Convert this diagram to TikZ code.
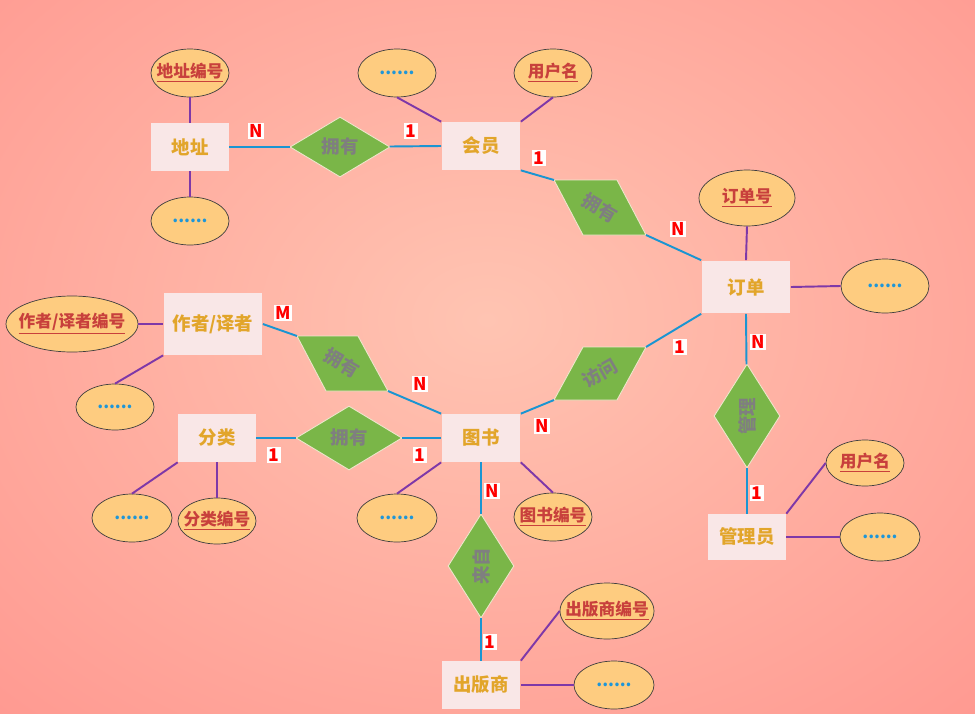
\documentclass[tikz,border=0pt]{standalone}
\usepackage{fontspec}
\setmainfont{Noto Sans CJK SC}
\usepackage{xcolor}
\usepackage{tikz}
\usetikzlibrary{shapes.geometric,positioning}
\definecolor{bgin}{HTML}{FFC4B2}
\definecolor{bgout}{HTML}{FF8A85}
\definecolor{entityfill}{HTML}{F9E7E7}
\definecolor{entitytext}{HTML}{E2A52A}
\definecolor{attrfill}{HTML}{FECC80}
\definecolor{attrborder}{HTML}{3E3E3E}
\definecolor{keytext}{HTML}{C8403C}
\definecolor{dotblue}{HTML}{1E96D8}
\definecolor{relfill}{HTML}{7AB648}
\definecolor{relborder}{HTML}{EEE6CC}
\definecolor{reltext}{HTML}{7F7F7F}
\definecolor{linkblue}{HTML}{1A95D2}
\definecolor{linkpurple}{HTML}{7E38A8}
\definecolor{cardred}{HTML}{FF0000}
\newcommand{\key}[1]{\underline{#1}}
\tikzset{
  entity/.style={
    rectangle, fill=entityfill, minimum width=1.56cm, minimum height=0.96cm,
    inner sep=1pt, text=entitytext, font=\bfseries\fontsize{10.5}{12}\selectfont
  },
  attr/.style={
    ellipse, draw=attrborder, line width=0.4pt, fill=attrfill,
    minimum width=1.56cm, minimum height=0.96cm, inner ysep=0pt, inner xsep=-5pt,
    text=keytext, font=\bfseries\fontsize{9.5}{11}\selectfont
  },
  moreattr/.style={attr, text=dotblue},
  rel/.style={
    diamond, fill=relfill, draw=relborder, line width=0.5pt, aspect=1.6,
    inner sep=0pt, minimum width=2cm, minimum height=1.2cm,
    text=reltext, font=\bfseries\fontsize{10.5}{12}\selectfont
  },
  relshape/.style={fill=relfill, draw=relborder, line width=0.5pt},
  reltag/.style={text=reltext, font=\bfseries\fontsize{10.5}{12}\selectfont, inner sep=0pt},
  card/.style={fill=white, text=cardred, inner sep=1pt, font=\bfseries\fontsize{10}{11}\selectfont},
  relline/.style={draw=linkblue, line width=1.1pt},
  attrline/.style={draw=linkpurple, line width=1.1pt},
}

\begin{document}
\begin{tikzpicture}[x=0.02cm, y=-0.02cm]
  \useasboundingbox (0,0) rectangle (975,714);
  \fill[bgout] (0,0) rectangle (975,714);
  \shade[inner color=bgin, outer color=bgout] (487,320) ellipse [x radius=19.5cm, y radius=15cm];
  % entities
  \node[entity] (dizhi) at (190,147) {地址};
  \node[entity, minimum width=1.58cm] (huiyuan) at (481,146) {会员};
  \node[entity, minimum width=1.78cm, minimum height=1.06cm] (dingdan) at (746,287) {订单};
  \node[entity, minimum width=1.98cm, minimum height=1.24cm] (zuozhe) at (213,324) {作者/译者};
  \node[entity] (fenlei) at (217,438) {分类};
  \node[entity, minimum width=1.58cm] (tushu) at (481,438) {图书};
  \node[entity, minimum height=0.92cm] (guanliyuan) at (747,537) {管理员};
  \node[entity, minimum width=1.58cm] (chubanshe) at (481,685) {出版商};
  % attributes
  \node[attr] (dizhiid) at (190,73) {\key{地址编号}};
  \node[moreattr] (dizhimore) at (190,221) {......};
  \node[moreattr] (huiyuanmore) at (397,73) {......};
  \node[attr] (huiyuanid) at (553,73) {\key{用户名}};
  \node[attr, minimum width=1.92cm, minimum height=1.12cm] (dingdanid) at (747,198) {\key{订单号}};
  \node[moreattr, minimum width=1.76cm, minimum height=1.08cm] (dingdanmore) at (885,286) {......};
  \node[attr, minimum width=2.64cm, minimum height=1.12cm] (zuozheid) at (72,324) {\key{作者/译者编号}};
  \node[moreattr, minimum height=0.92cm] (zuozhemore) at (115,407) {......};
  \node[moreattr, minimum width=1.6cm] (fenleimore) at (132,518) {......};
  \node[attr, minimum height=0.92cm] (fenleiid) at (217,521) {\key{分类编号}};
  \node[moreattr, minimum width=1.6cm] (tushumore) at (397,518) {......};
  \node[attr] (tushuid) at (553,517) {\key{图书编号}};
  \node[attr, minimum height=0.92cm] (adminid) at (865,463) {\key{用户名}};
  \node[moreattr, minimum width=1.6cm] (adminmore) at (880,537) {......};
  \node[attr, minimum width=1.88cm, minimum height=1.12cm] (chubanid) at (607,611) {\key{出版商编号}};
  \node[moreattr, minimum width=1.6cm] (chubanmore) at (614,685) {......};
  % relations
  \node[rel] (own1) at (340,147) {拥有};
  \node[rel, minimum width=2.12cm, minimum height=1.28cm] (own4) at (349,438) {拥有};
  \node[rel, rotate=90, minimum width=2.08cm, minimum height=1.32cm] (manage) at (747,416) {管理};
  \node[rel, rotate=90, minimum width=2.08cm, minimum height=1.32cm] (from) at (481,566) {来自};
  \coordinate (p1nw) at (554,180); \coordinate (p1ne) at (617,180);
  \coordinate (p1se) at (646,235); \coordinate (p1sw) at (583,235);
  \filldraw[relshape] (p1nw) -- (p1ne) -- (p1se) -- (p1sw) -- cycle;
  \node[reltag, rotate=-30] (own2) at (600,208) {拥有};
  \coordinate (p2nw) at (583,347); \coordinate (p2ne) at (646,347);
  \coordinate (p2se) at (617,400); \coordinate (p2sw) at (554,400);
  \filldraw[relshape] (p2nw) -- (p2ne) -- (p2se) -- (p2sw) -- cycle;
  \node[reltag, rotate=30] (visit) at (600,373) {访问};
  \coordinate (p3nw) at (297,336); \coordinate (p3ne) at (358,336);
  \coordinate (p3se) at (388,391); \coordinate (p3sw) at (326,391);
  \filldraw[relshape] (p3nw) -- (p3ne) -- (p3se) -- (p3sw) -- cycle;
  \node[reltag, rotate=-30] (own3) at (342,363) {拥有};
  % connectors
  \foreach \a/\b in {dizhiid.south/dizhi.north, dizhimore.north/dizhi.south,
      huiyuanmore.south/huiyuan.north west, huiyuanid.south/huiyuan.north east,
      dingdanid.south/dingdan.north, dingdanmore.west/dingdan.east,
      zuozheid.east/zuozhe.west, zuozhemore.north/zuozhe.south west,
      fenleimore.north/fenlei.south west, fenleiid.north/fenlei.south,
      tushumore.north/tushu.south west, tushuid.north/tushu.south east,
      adminid.west/guanliyuan.north east, adminmore.west/guanliyuan.east,
      chubanid.west/chubanshe.north east, chubanmore.west/chubanshe.east}
    \draw[attrline] (\a) -- (\b);
  \foreach \a/\b in {dizhi.east/own1, own1/huiyuan.west,
      huiyuan.south east/p1nw, p1se/dingdan.north west,
      dingdan.south west/p2ne, p2sw/tushu.north east,
      zuozhe.east/p3nw, p3se/tushu.north west,
      fenlei.east/own4, own4/tushu.west,
      dingdan.south/manage, manage/guanliyuan.north,
      tushu.south/from, from/chubanshe.north}
    \draw[relline] (\a) -- (\b);
  % cardinalities
  \node[card] (c1) at (256,131) {N};
  \node[card] (c2) at (411,131) {1};
  \node[card] (c3) at (539,158) {1};
  \node[card] (c4) at (678,229) {N};
  \node[card] (c5) at (283,313) {M};
  \node[card] (c6) at (420,384) {N};
  \node[card] (c7) at (680,347) {1};
  \node[card] (c8) at (542,426) {N};
  \node[card] (c9) at (758,342) {N};
  \node[card] (c10) at (757,493) {1};
  \node[card] (c11) at (274,455) {1};
  \node[card] (c12) at (420,455) {1};
  \node[card] (c13) at (492,491) {N};
  \node[card] (c14) at (490,642) {1};
\end{tikzpicture}
\end{document}
